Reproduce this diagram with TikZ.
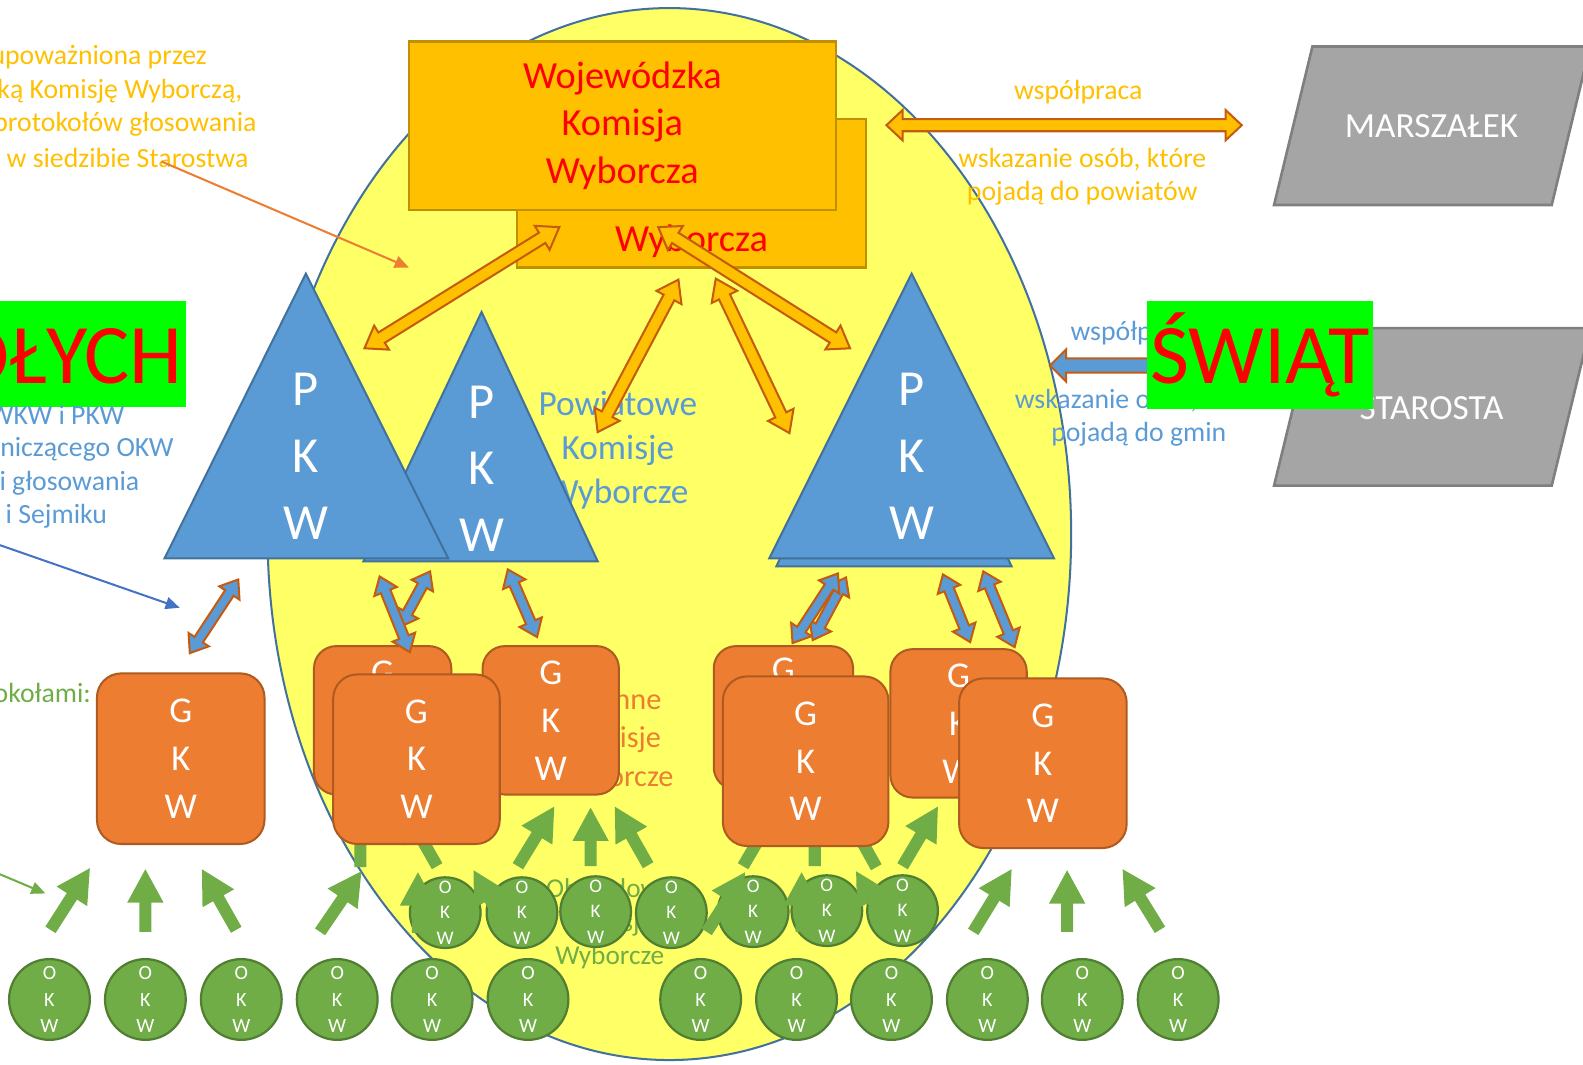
\documentclass[tikz,border=0pt]{standalone}
\usepackage{fontspec}
\setmainfont{Carlito}
\usetikzlibrary{arrows.meta}
\definecolor{ellY}{HTML}{FFFF66}
\definecolor{ellB}{HTML}{41719C}
\definecolor{goldF}{HTML}{FFC000}
\definecolor{goldB}{HTML}{BF9000}
\definecolor{brownB}{HTML}{C55A11}
\definecolor{bluF}{HTML}{5B9BD5}
\definecolor{oraF}{HTML}{ED7D31}
\definecolor{oraB}{HTML}{AE5A21}
\definecolor{grnF}{HTML}{70AD47}
\definecolor{grnB}{HTML}{507E32}
\definecolor{gryF}{HTML}{A5A5A5}
\definecolor{gryB}{HTML}{7F7F7F}
\definecolor{limeG}{HTML}{00FF00}
\definecolor{thinBl}{HTML}{4472C4}
% double block arrow: style, x1,y1,x2,y2, half shaft, half head, head length (px)
\newcommand\dblk[8]{%
 \pgfmathsetmacro\bA{atan2(-((#5)-(#3)),(#4)-(#2))}%
 \pgfmathsetmacro\bL{veclen((#4)-(#2),(#5)-(#3))}%
 \pgfmathsetmacro\bM{\bL-(#8)}%
 \begin{scope}[shift={(#2,#3)},rotate=\bA]
 \path[#1] (0,0) -- (#8,#7) -- (#8,#6) -- (\bM,#6) -- (\bM,#7) -- (\bL,0) -- (\bM,-#7) -- (\bM,-#6) -- (#8,-#6) -- (#8,-#7) -- cycle;
 \end{scope}}
% single block arrow: tail -> tip
\newcommand\sblk[8]{%
 \pgfmathsetmacro\bA{atan2(-((#5)-(#3)),(#4)-(#2))}%
 \pgfmathsetmacro\bL{veclen((#4)-(#2),(#5)-(#3))}%
 \pgfmathsetmacro\bM{\bL-(#8)}%
 \begin{scope}[shift={(#2,#3)},rotate=\bA]
 \path[#1] (0,#6) -- (\bM,#6) -- (\bM,#7) -- (\bL,0) -- (\bM,-#7) -- (\bM,-#6) -- (0,-#6) -- cycle;
 \end{scope}}
\newcommand\garr[4]{\sblk{garrow}{#1}{#2}{#3}{#4}{6}{18}{33}}
\newcommand\barr[4]{\dblk{barrow}{#1}{#2}{#3}{#4}{5}{12}{16}}
\newcommand\oarr[4]{\dblk{oarrow}{#1}{#2}{#3}{#4}{6}{14}{20}}
\begin{document}
\begin{tikzpicture}[x=0.5pt,y=-0.5pt,
 every node/.style={inner sep=0pt,outer sep=0pt},
 wkw/.style={draw=goldB,fill=goldF,line width=1.2pt,text=red,align=center,font=\fontsize{19pt}{23.5pt}\selectfont},
 gkw/.style={draw=oraB,fill=oraF,line width=1pt,rounded corners=12pt,text=white,align=center,font=\fontsize{18pt}{23.75pt}\selectfont},
 gkwb/.style={gkw,rounded corners=11pt},
 okw/.style={circle,draw=grnB,fill=grnF,line width=1.1pt,text=white,align=center,minimum size=40pt,font=\fontsize{10pt}{13pt}\selectfont},
 okws/.style={okw,minimum size=35pt,font=\fontsize{9.5pt}{12.5pt}\selectfont},
 pkwtri/.style={draw=ellB,fill=bluF,line width=1pt},
 pkwtxt/.style={text=white,align=center,font=\fontsize{25pt}{33pt}\selectfont},
 oarrow/.style={fill=goldF,draw=brownB,line width=1pt},
 barrow/.style={fill=bluF,draw=brownB,line width=1pt},
 garrow/.style={fill=grnF},
 parbox/.style={fill=gryF,draw=gryB,line width=1.3pt},
 partxt/.style={text=white,font=\fontsize{17.5pt}{21pt}\selectfont},
 otxt/.style={text=goldF,align=center,font=\fontsize{13.75pt}{16.5pt}\selectfont},
 btxt/.style={text=bluF,align=center,font=\fontsize{13.75pt}{16.5pt}\selectfont},
 gtxt/.style={text=grnF,align=center,font=\fontsize{13.75pt}{16.5pt}\selectfont},
 bigred/.style={text=red,font=\fontsize{42pt}{50pt}\selectfont},
 thinln/.style={line width=1pt,-{Triangle[length=7pt,width=6pt]}}
]
\useasboundingbox (0,0) rectangle (1568,1054);
\clip (0,0) rectangle (1568,1054);

% big ellipse
\draw[fill=ellY,draw=ellB,line width=1pt] (663,529) ellipse [x radius=199pt, y radius=260.5pt];

% top-left text
\node[otxt,anchor=east] (tl1) at (205,57) {upoważniona przez};
\node[otxt,anchor=east] (tl2) at (240,90) {ką Komisję Wyborczą,};
\node[otxt,anchor=east] (tl3) at (254,123) {protokołów głosowania};
\node[otxt,anchor=east] (tl4) at (246,156) {w siedzibie Starostwa};
\coordinate (tlA) at (160,160);
\coordinate (tlB) at (405,265);
\draw[thinln,draw=oraF,fill=oraF] (tlA) -- (tlB);

% left green banner
\fill[limeG] (-20,298) rectangle (184,403);
\node[bigred,anchor=base east] (wes) at (181,380) {WESOŁYCH};

% left blue text
\node[btxt,anchor=east] (lb1) at (123,411) {WKW i PKW};
\node[btxt,anchor=east] (lb2) at (172,445) {niczącego OKW};
\node[btxt,anchor=east] (lb3) at (138,479) {i głosowania};
\node[btxt,anchor=east] (lb4) at (106,511) {i Sejmiku};
\coordinate (lbA) at (0,540);
\coordinate (lbB) at (178,602);
\draw[thinln,draw=thinBl,fill=thinBl] (lbA) -- (lbB);

% left green text
\node[gtxt,anchor=east] (lg1) at (90,686) {okołami:};
\coordinate (lgA) at (0,866);
\coordinate (lgB) at (45,885);
\draw[thinln,draw=grnF,fill=grnF] (lgA) -- (lgB);

% texts inside ellipse
\node[text=bluF,align=center,font=\fontsize{17.5pt}{21.75pt}\selectfont] (pkwlbl) at (612,446) {Powiatowe\\Komisje\\Wyborcze};
\node[text=oraF,align=center,font=\fontsize{15pt}{19pt}\selectfont] (gkwlbl) at (607,733) {Gminne\\Komisje\\Wyborcze};
\node[text=grnF,align=center,font=\fontsize{13.5pt}{16.5pt}\selectfont] (okwlbl) at (604,915) {Obwodowe\\Komisje\\Wyborcze};

% WKW boxes
\node[wkw,minimum width=173pt,minimum height=73.5pt] (wkwB) at (685,191.5) {Wojewódzka\\Komisja\\Wyborcza};
\node[wkw,minimum width=211.5pt,minimum height=83.5pt] (wkwF) at (616.5,124.5) {Wojewódzka\\Komisja\\Wyborcza};

% PKW triangles
\draw[pkwtri] (360,556) -- (592,556) -- (477,309) -- cycle;
\node[pkwtxt] (pkw2) at (477,464) {P\\K\\W};
\draw[pkwtri] (163,553) -- (444,553) -- (303,271) -- cycle;
\node[pkwtxt] (pkw1) at (303,452) {P\\K\\W};
\draw[pkwtri] (769,561) -- (1002,561) -- (885,315) -- cycle;
\draw[pkwtri] (762,553) -- (1044,553) -- (903,271) -- cycle;
\node[pkwtxt] (pkw3) at (903,452) {P\\K\\W};

% WKW <-> PKW arrows
\oarr{554}{225}{361}{345}
\oarr{672}{277}{592}{428}
\oarr{709}{276}{782}{429}
\oarr{652}{225}{842}{345}

% right side: Marszalek
\node[otxt] (wsp1) at (1068,91) {współpraca};
\node[otxt] (wsk1) at (1072,175) {wskazanie osób, które\\pojadą do powiatów};
\dblk{oarrow}{878}{124}{1230}{124}{6}{15}{16}
\draw[parbox] (1300,46) -- (1575,46) -- (1537,203) -- (1262,203) -- cycle;
\node[partxt] (marsz) at (1418,125) {MARSZAŁEK};

% right side: Starosta
\node[btxt] (wsp2) at (1124,330) {współpraca};
\node[btxt] (wsk2) at (1128,414) {wskazanie osób, które\\pojadą do gmin};
\dblk{barrow}{1040}{362}{1240}{362}{7}{16}{16}
\draw[parbox] (1300,325) -- (1575,325) -- (1537,481) -- (1262,481) -- cycle;
\node[partxt] (star) at (1418,404) {STAROSTA};
\node[fill=limeG,minimum width=112pt,minimum height=53.5pt] (swbox) at (1248,351.5) {};
\node[bigred,anchor=base] (swiat) at (1248,380) {ŚWIĄT};

% upper-level OKW -> GKW arrows
\garr{357}{859}{357}{800}
\garr{433}{858}{400}{800}
\garr{513}{858}{549}{799}
\garr{585}{858}{585}{800}
\garr{642}{857}{609}{799}
\garr{736}{858}{770}{800}
\garr{807}{858}{807}{800}
\garr{868}{859}{835}{800}
\garr{894}{858}{929}{799}

% GKW boxes
\node[gkw,minimum width=83pt,minimum height=84.5pt] (g1) at (179,751.5) {G\\K\\W};
\node[gkwb,minimum width=68pt,minimum height=73.5pt] (g2b) at (379,713.5) {G\\K\\W};
\node[gkwb,minimum width=67.5pt,minimum height=73.5pt] (g3) at (545.5,713.5) {G\\K\\W};
\node[gkw,minimum width=82.5pt,minimum height=84pt] (g2f) at (412.5,752) {G\\K\\W};
\node[gkwb,minimum width=69pt,minimum height=71pt] (g4b) at (776,711) {G\\K\\W};
\node[gkw,minimum width=82pt,minimum height=84pt] (g4f) at (798,754) {G\\K\\W};
\node[gkwb,minimum width=67.5pt,minimum height=73.5pt] (g5b) at (949.5,716.5) {G\\K\\W};
\node[gkw,minimum width=83pt,minimum height=84pt] (g5f) at (1033,756) {G\\K\\W};

% PKW <-> GKW arrows
\barr{236}{574}{188}{647}
\barr{426}{566}{396}{621}
\barr{376}{571}{406}{646}
\barr{503}{564}{532}{631}
\barr{838}{572}{805}{634}
\barr{830}{568}{785}{637}
\barr{934}{569}{961}{636}
\barr{974}{566}{1005}{641}

% OKW circles
\foreach \cx/\cy [count=\i] in {441/904,517/904,590/903,665/904,746/903,819/902,894/902}
  \node[okws] (r\i) at (\cx,\cy) {O\\K\\W};
\foreach \cx [count=\i] in {49,144,239,334,428,523,694,789,883,978,1072,1167}
  \node[okw] (b\i) at (\cx,990) {O\\K\\W};

% lower-level OKW -> GKW arrows
\garr{50}{921}{89}{860}
\garr{144}{923}{144}{861}
\garr{234}{921}{200}{861}
\garr{317}{923}{358}{863}
\garr{414}{924}{414}{864}
\garr{503}{922}{469}{862}
\garr{700}{923}{738}{864}
\garr{794}{923}{794}{864}
\garr{882}{922}{848}{863}
\garr{964}{923}{1002}{861}
\garr{1057}{923}{1057}{862}
\garr{1149}{921}{1112}{861}
\end{tikzpicture}
\end{document}
